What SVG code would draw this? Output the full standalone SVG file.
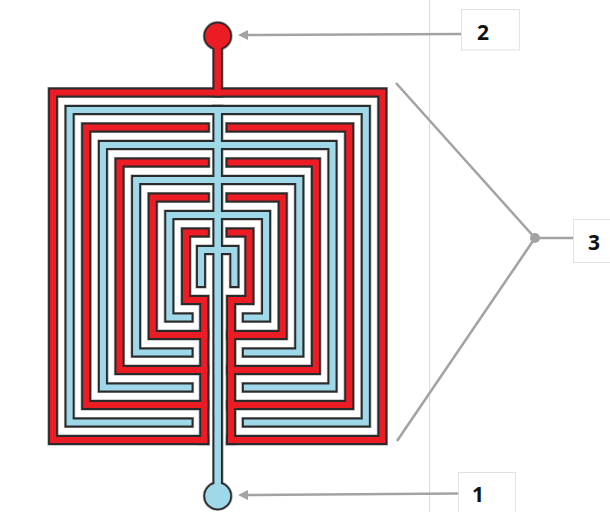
<svg xmlns="http://www.w3.org/2000/svg" xmlns:xlink="http://www.w3.org/1999/xlink" width="610" height="512" viewBox="0 0 610 512">
<style>
.halo{fill:none;stroke:#a0a0a0;stroke-width:11.2;stroke-linecap:square;stroke-linejoin:miter}
.blk{fill:none;stroke:#2a2a2a;stroke-width:9.8;stroke-linecap:square;stroke-linejoin:miter}
.red{fill:none;stroke:#ec1c24;stroke-width:6.1;stroke-linecap:square;stroke-linejoin:miter}
.blue{fill:none;stroke:#9fd8e9;stroke-width:6.1;stroke-linecap:square;stroke-linejoin:miter}
.conn{fill:none;stroke:#a3a3a3;stroke-width:2.6}
.box{fill:#ffffff;stroke:#e2e2e2;stroke-width:1}
.lbl{font-family:"Open Sans","Liberation Sans",sans-serif;font-weight:700;font-size:21px;fill:#111111;text-anchor:middle}
</style>
<defs>
<g id="redL">
<path d="M217.7,36 V92.5 H53 V440 H204.3"/>
<path d="M204.8,127.5 H86.2 V405 H204.3"/>
<path d="M204.8,162.5 H119.5 V370 H204.3"/>
<path d="M204.8,197.5 H152.7 V335 H204.3"/>
<path d="M204.8,232.5 H186 V300 H204.3 V440"/>
</g>
<g id="blueL">
<path d="M217.7,110 V496"/>
<path d="M217.7,110 H69.6 V422.5 H188.5"/>
<path d="M217.7,145 H102.9 V387.5 H188.5"/>
<path d="M217.7,180 H136.1 V352.5 H188.5"/>
<path d="M217.7,215 H169.3 V317.5 H188.5"/>
<path d="M217.7,250 H201 V283"/>
</g>
<g id="redA"><use xlink:href="#redL"/><use xlink:href="#redL" transform="matrix(-1,0,0,1,435.4,0)"/></g>
<g id="blueA"><use xlink:href="#blueL"/><use xlink:href="#blueL" transform="matrix(-1,0,0,1,435.4,0)"/></g>
<marker id="ah" viewBox="0 0 10 10" refX="0" refY="5" markerWidth="10" markerHeight="10" markerUnits="userSpaceOnUse" orient="auto">
<path d="M0,0 L10,5 L0,10 z" fill="#a3a3a3"/>
</marker>
</defs>
<rect width="610" height="512" fill="#ffffff"/>
<line x1="429.5" y1="0" x2="429.5" y2="512" stroke="#dcdcdc" stroke-width="1"/>
<g id="labyrinth">
<g class="halo"><use xlink:href="#redA"/><use xlink:href="#blueA"/></g>
<circle cx="217.7" cy="36" r="15" fill="#a0a0a0"/>
<circle cx="217.7" cy="496" r="15" fill="#a0a0a0"/>
<g class="blk"><use xlink:href="#redA"/><use xlink:href="#blueA"/></g>
<circle cx="217.7" cy="36" r="14.2" fill="#2a2a2a"/>
<circle cx="217.7" cy="496" r="14.2" fill="#2a2a2a"/>
<g class="red"><use xlink:href="#redA"/></g>
<g class="blue"><use xlink:href="#blueA"/></g>
<circle id="top-circle" cx="217.7" cy="36" r="12.5" fill="#ec1c24"/>
<circle id="bottom-circle" cx="217.7" cy="496" r="12.5" fill="#9fd8e9"/>
</g>
<g id="connectors">
<line class="conn" x1="461" y1="34" x2="248" y2="35" marker-end="url(#ah)"/>
<line class="conn" x1="458" y1="493.5" x2="248" y2="495" marker-end="url(#ah)"/>
<line class="conn" x1="396" y1="83" x2="535" y2="238"/>
<line class="conn" x1="397" y1="441" x2="535" y2="238"/>
<line class="conn" x1="535" y1="238" x2="573" y2="238"/>
<circle cx="535" cy="238" r="5" fill="#a3a3a3"/>
</g>
<g id="node-2"><rect class="box" x="461.5" y="9.5" width="58" height="40.5"/><text class="lbl" x="483" y="39.5">2</text></g>
<g id="node-3"><rect class="box" x="573.5" y="219.5" width="40" height="43"/><text class="lbl" x="594" y="249.5">3</text></g>
<g id="node-1"><rect class="box" x="458.5" y="472.5" width="57" height="45"/><text class="lbl" x="478" y="501.5">1</text></g>
</svg>
